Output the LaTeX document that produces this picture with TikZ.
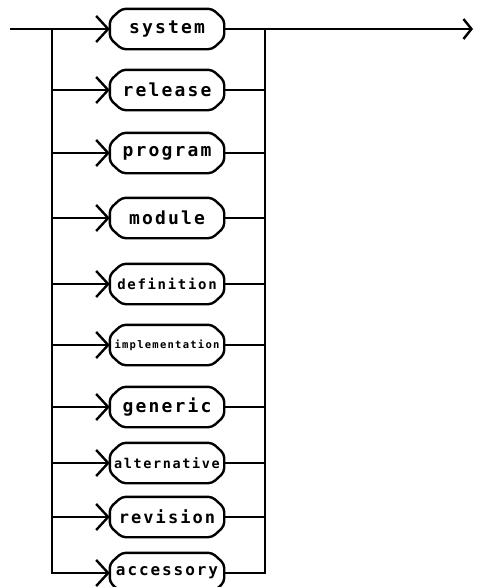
\documentclass[tikz,border=0pt]{standalone}
\usepackage{fontspec}
\newfontfamily\railfont{DejaVu Sans Mono}[LetterSpace=12]
\usetikzlibrary{arrows.meta}
\newcommand{\railsize}[1]{\railfont\bfseries\fontsize{#1}{#1}\selectfont}
\begin{document}
\begin{tikzpicture}[x=1pt,y=-1pt,
  wire/.style={line width=2.4pt,line join=miter},
  bus/.style={line width=2.6pt},
  entry/.style={wire,-{Straight Barb[length=12pt,width=26pt,line width=2.4pt]}},
  exit/.style={wire,-{Straight Barb[length=8pt,width=20pt,line width=2.4pt]}},
  kw/.style={minimum width=114pt,minimum height=40pt,inner sep=0pt,
    font=\railsize{#1}},
  kw/.default=18,
  outline/.style={line width=2.4pt,rounded corners=4pt}]
\useasboundingbox (0,0) rectangle (477,587);

% keyword boxes
\node[kw]     (system)   at (167,29)  {system};
\node[kw]     (release)  at (167,90)  {release};
\node[kw]     (program)  at (167,153) {program};
\node[kw]     (module)   at (167,218) {module};
\node[kw=14]  (defn)     at (167,284) {definition};
\node[kw=10.5](impl)     at (167,345) {implementation};
\node[kw]     (generic)  at (167,407) {generic};
\node[kw=13.5](alt)      at (167,463) {alternative};
\node[kw=17]  (revision) at (167,517) {revision};
\node[kw=16]  (access)   at (167,573) {accessory};

% chamfered outlines of the boxes
\foreach \n in {system,release,program,module,defn,impl,generic,alt,revision,access}{
  \draw[outline] ([xshift=12pt]\n.north west) -- ([xshift=-12pt]\n.north east)
    -- ([yshift=-11pt]\n.north east) -- ([yshift=11pt]\n.south east)
    -- ([xshift=-12pt]\n.south east) -- ([xshift=12pt]\n.south west)
    -- ([yshift=11pt]\n.south west) -- ([yshift=-11pt]\n.north west) -- cycle;
}

% rails
\coordinate (start) at (10,29);
\coordinate (L) at (52,29);
\coordinate (R) at (265,29);
\coordinate (stop) at (473,29);

\draw[entry] (start) -- (system.west);
\draw[wire] (system.east) -- (R);
\draw[exit] (R) -- (stop);
\draw[bus] (L) |- (access.west);
\draw[bus] (R) |- (access.east);

\foreach \n in {release,program,module,defn,impl,generic,alt,revision,access}{
  \draw[entry] (L |- \n.west) -- (\n.west);
  \draw[wire] (\n.east) -- (R |- \n.east);
}
\end{tikzpicture}
\end{document}
